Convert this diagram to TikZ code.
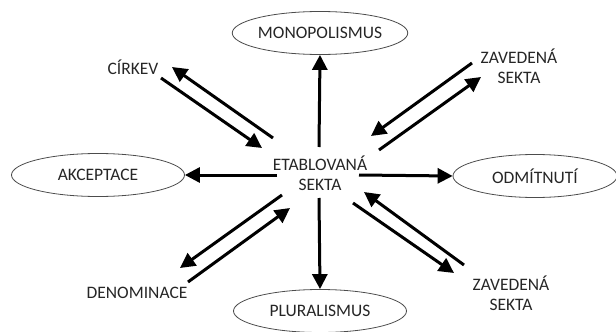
\documentclass[tikz,border=0pt]{standalone}
\usepackage{fontspec}
\setmainfont{Carlito}
\usetikzlibrary{shapes.geometric,arrows.meta}
\begin{document}
\begin{tikzpicture}[x=1pt,y=-1pt,
  lbl/.style={font=\fontsize{17.5}{20}\selectfont, text=black!85, align=center, inner sep=0pt},
  oval/.style={ellipse, draw=black!70, line width=0.8pt, minimum width=173pt, minimum height=43pt, inner sep=0pt, font=\fontsize{17.5}{20}\selectfont, text=black!85},
  arr/.style={line width=3pt, -{Triangle[length=15pt,width=15pt]}}
]
\useasboundingbox (0,0) rectangle (616,332);
\node[lbl] (c) at (320,173) {ETABLOVANÁ\\SEKTA};
\node[oval] (mono) at (320,33) {MONOPOLISMUS};
\node[oval] (plur) at (320,311) {PLURALISMUS};
\node[oval] (akc) at (98,175) {AKCEPTACE};
\node[oval, minimum width=164pt] (odm) at (535,176) {ODMÍTNUTÍ};
\node[lbl] (cir) at (133,67) {CÍRKEV};
\node[lbl] (zs1) at (519,66) {ZAVEDENÁ\\SEKTA};
\node[lbl] (den) at (137,293) {DENOMINACE};
\node[lbl] (zs2) at (511,293) {ZAVEDENÁ\\SEKTA};
% endpoints
\coordinate (cA) at (161,78);  \coordinate (cB) at (262,148);
\coordinate (cC) at (273,138); \coordinate (cD) at (172,67);
\coordinate (zA) at (472,63);  \coordinate (zB) at (371,136);
\coordinate (zC) at (379,150); \coordinate (zD) at (481,77);
\coordinate (dA) at (282,195); \coordinate (dB) at (180,268);
\coordinate (dC) at (188,282); \coordinate (dD) at (290,208);
\coordinate (yA) at (353,203); \coordinate (yB) at (454,273);
\coordinate (yC) at (464,265); \coordinate (yD) at (364,192);
\coordinate (up0) at (319,147);
\coordinate (dn0) at (319,198);
\coordinate (lf0) at (277,175);
\coordinate (rt0) at (359,175);
\draw[arr] (up0) -- (mono.south);
\draw[arr] (dn0) -- (plur.north);
\draw[arr] (lf0) -- (akc.east);
\draw[arr] (rt0) -- (odm.west);
\draw[arr] (cA) -- (cB);
\draw[arr] (cC) -- (cD);
\draw[arr] (zA) -- (zB);
\draw[arr] (zC) -- (zD);
\draw[arr] (dA) -- (dB);
\draw[arr] (dC) -- (dD);
\draw[arr] (yA) -- (yB);
\draw[arr] (yC) -- (yD);
\end{tikzpicture}
\end{document}
